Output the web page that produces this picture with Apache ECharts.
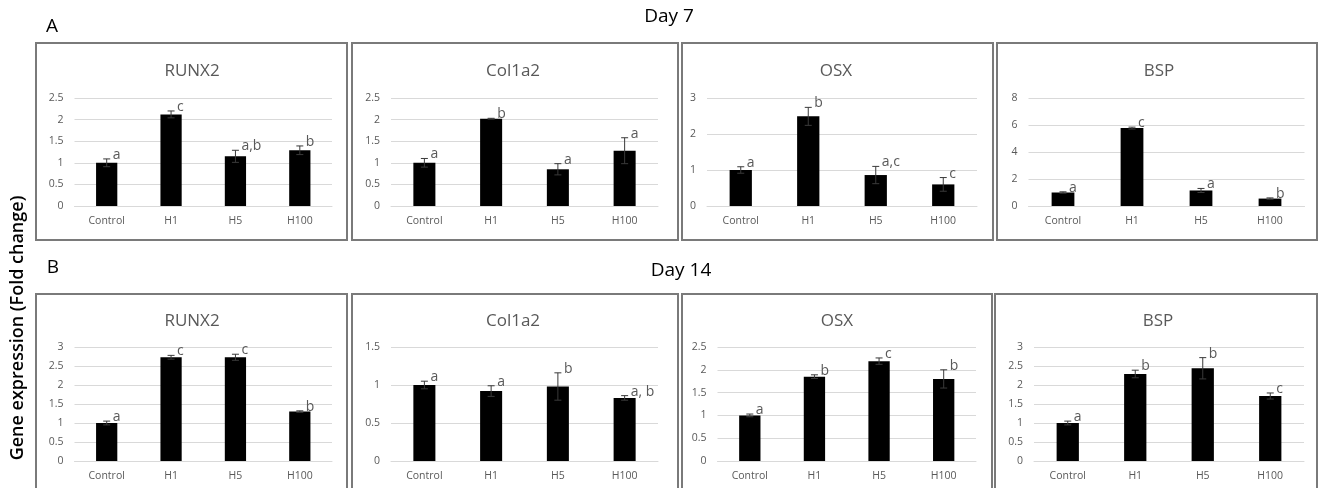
<!DOCTYPE html>
<html lang="en">
<head>
<meta charset="UTF-8">
<title>Gene expression (Fold change) - Day 7 / Day 14</title>
<script src="https://cdn.jsdelivr.net/npm/echarts@6.0.0/dist/echarts.min.js"></script>
<style>
  body { margin: 0; padding: 0; background: #fff; }
  #main { width: 1320px; height: 488px; }
</style>
</head>
<body>
<div id="main"></div>
<script>
const groups = ['Control', 'H1', 'H5', 'H100'];
const genes = ['RUNX2', 'Col1a2', 'OSX', 'BSP'];

// Day 7 - one row per gene (RUNX2, Col1a2, OSX, BSP)
const d7Mean = [
  [1.0, 2.12, 1.15, 1.29],
  [1.0, 2.02, 0.85, 1.28],
  [1.0, 2.49, 0.86, 0.60],
  [1.0, 5.77, 1.15, 0.55]
];
const d7Err = [
  [0.09, 0.08, 0.14, 0.10],
  [0.10, 0.01, 0.13, 0.30],
  [0.09, 0.25, 0.24, 0.19],
  [0.05, 0.07, 0.15, 0.05]
];
const d7Sig = [
  ['a', 'c', 'a,b', 'b'],
  ['a', 'b', 'a', 'a'],
  ['a', 'b', 'a,c', 'c'],
  ['a', 'c', 'a', 'b']
];
const d7AxisMax = [2.5, 2.5, 3, 8];
const d7AxisStep = [0.5, 0.5, 1, 2];

// Day 14
const d14Mean = [
  [1.0, 2.73, 2.73, 1.30],
  [1.0, 0.92, 0.98, 0.83],
  [1.0, 1.85, 2.19, 1.80],
  [1.0, 2.29, 2.44, 1.71]
];
const d14Err = [
  [0.05, 0.05, 0.08, 0.02],
  [0.05, 0.07, 0.18, 0.03],
  [0.03, 0.04, 0.07, 0.20],
  [0.05, 0.10, 0.28, 0.08]
];
const d14Sig = [
  ['a', 'c', 'c', 'b'],
  ['a', 'a', 'b', 'a, b'],
  ['a', 'b', 'c', 'b'],
  ['a', 'b', 'b', 'c']
];
const d14AxisMax = [3, 1.5, 2.5, 3];
const d14AxisStep = [0.5, 0.5, 0.5, 0.5];

// layout (pixels)
const gridLeft7 = [74.5, 391, 707, 1028.5];
const gridWidth7 = [257.5, 267, 270, 276];
const gridLeft14 = [74.5, 391, 717.5, 1034];
const gridWidth14 = [257.5, 267, 258.5, 270];
const boxes7 = [[36, 347], [352, 678], [682, 993], [997, 1317]];
const boxes14 = [[36, 347], [352, 678], [682, 992], [995, 1317]];
const titleX7 = [192, 513, 836, 1159];
const titleX14 = [192, 513, 837, 1158];

const FONT = '"Open Sans", "Liberation Sans", sans-serif';
const GRAY = '#595959';
const GRID_LINE = '#d9d9d9';

const grids = [], xAxes = [], yAxes = [], series = [], graphics = [];

function errorRender(sig) {
  return function (params, api) {
    const i = api.value(0), m = api.value(1), e = api.value(2);
    const top = api.coord([i, m + e]);
    const bot = api.coord([i, m - e]);
    const x = top[0];
    const cap = 3.5;
    const st = { stroke: '#3a3a3a', lineWidth: 1 };
    return {
      type: 'group',
      children: [
        { type: 'line', shape: { x1: x, y1: top[1], x2: x, y2: bot[1] }, style: st },
        { type: 'line', shape: { x1: x - cap, y1: top[1], x2: x + cap, y2: top[1] }, style: st },
        { type: 'line', shape: { x1: x - cap, y1: bot[1], x2: x + cap, y2: bot[1] }, style: st },
        { type: 'text', x: x + 6, y: top[1] - 4,
          style: { text: sig[params.dataIndex], fill: GRAY, font: '14px ' + FONT,
                   align: 'left', verticalAlign: 'middle' } }
      ]
    };
  };
}

function addPanel(k, left, width, top, height, mean, err, sig, max, step) {
  grids.push({ left: left, top: top, width: width, height: height });
  xAxes.push({
    type: 'category', gridIndex: k, data: groups,
    axisLine: { show: true, lineStyle: { color: GRID_LINE } },
    axisTick: { show: false },
    axisLabel: { color: GRAY, fontSize: 10.5, fontFamily: FONT, margin: 10, interval: 0 }
  });
  yAxes.push({
    type: 'value', gridIndex: k, min: 0, max: max, interval: step,
    axisLine: { show: false }, axisTick: { show: false },
    splitLine: { lineStyle: { color: GRID_LINE } },
    axisLabel: { color: GRAY, fontSize: 10.5, fontFamily: FONT, margin: 11 }
  });
  series.push({
    type: 'bar', xAxisIndex: k, yAxisIndex: k, data: mean,
    barWidth: '33%', itemStyle: { color: '#000' }, silent: true
  });
  series.push({
    type: 'custom', xAxisIndex: k, yAxisIndex: k, z: 3,
    data: groups.map((g, i) => [i, mean[i], err[i]]),
    encode: { x: 0, y: 1 },
    renderItem: errorRender(sig), silent: true
  });
}

function addBox(x0, x1, y0, y1) {
  graphics.push({
    type: 'rect', shape: { x: x0, y: y0, width: x1 - x0, height: y1 - y0 },
    style: { fill: 'none', stroke: '#7a7a7a', lineWidth: 2 }, z: -1
  });
}

function addText(x, y, text, font, color, rotation) {
  graphics.push({
    type: 'text', x: x, y: y, rotation: rotation || 0,
    style: { text: text, font: font, fill: color, align: 'center', verticalAlign: 'middle' }
  });
}

for (let g = 0; g < 4; g++) {
  addPanel(g, gridLeft7[g], gridWidth7[g], 98, 108,
    d7Mean[g], d7Err[g], d7Sig[g], d7AxisMax[g], d7AxisStep[g]);
  addBox(boxes7[g][0], boxes7[g][1], 43, 240);
  addText(titleX7[g], 71, genes[g], '17px ' + FONT, GRAY);
}
for (let g = 0; g < 4; g++) {
  addPanel(g + 4, gridLeft14[g], gridWidth14[g], 347, 114,
    d14Mean[g], d14Err[g], d14Sig[g], d14AxisMax[g], d14AxisStep[g]);
  addBox(boxes14[g][0], boxes14[g][1], 294, 500);
  addText(titleX14[g], 321, genes[g], '17px ' + FONT, GRAY);
}

addText(52, 27, 'A', '19px ' + FONT, '#000');
addText(53, 268, 'B', '19px ' + FONT, '#000');
addText(669, 17, 'Day 7', '19px ' + FONT, '#000');
addText(681, 271, 'Day 14', '19px ' + FONT, '#000');
addText(18, 328, 'Gene expression (Fold change)', '600 18px ' + FONT, '#000', Math.PI / 2);

const chart = echarts.init(document.getElementById('main'));
chart.setOption({
  animation: false,
  backgroundColor: '#fff',
  grid: grids,
  xAxis: xAxes,
  yAxis: yAxes,
  series: series,
  graphic: { elements: graphics }
});
window.addEventListener('resize', () => chart.resize());
</script>
</body>
</html>
